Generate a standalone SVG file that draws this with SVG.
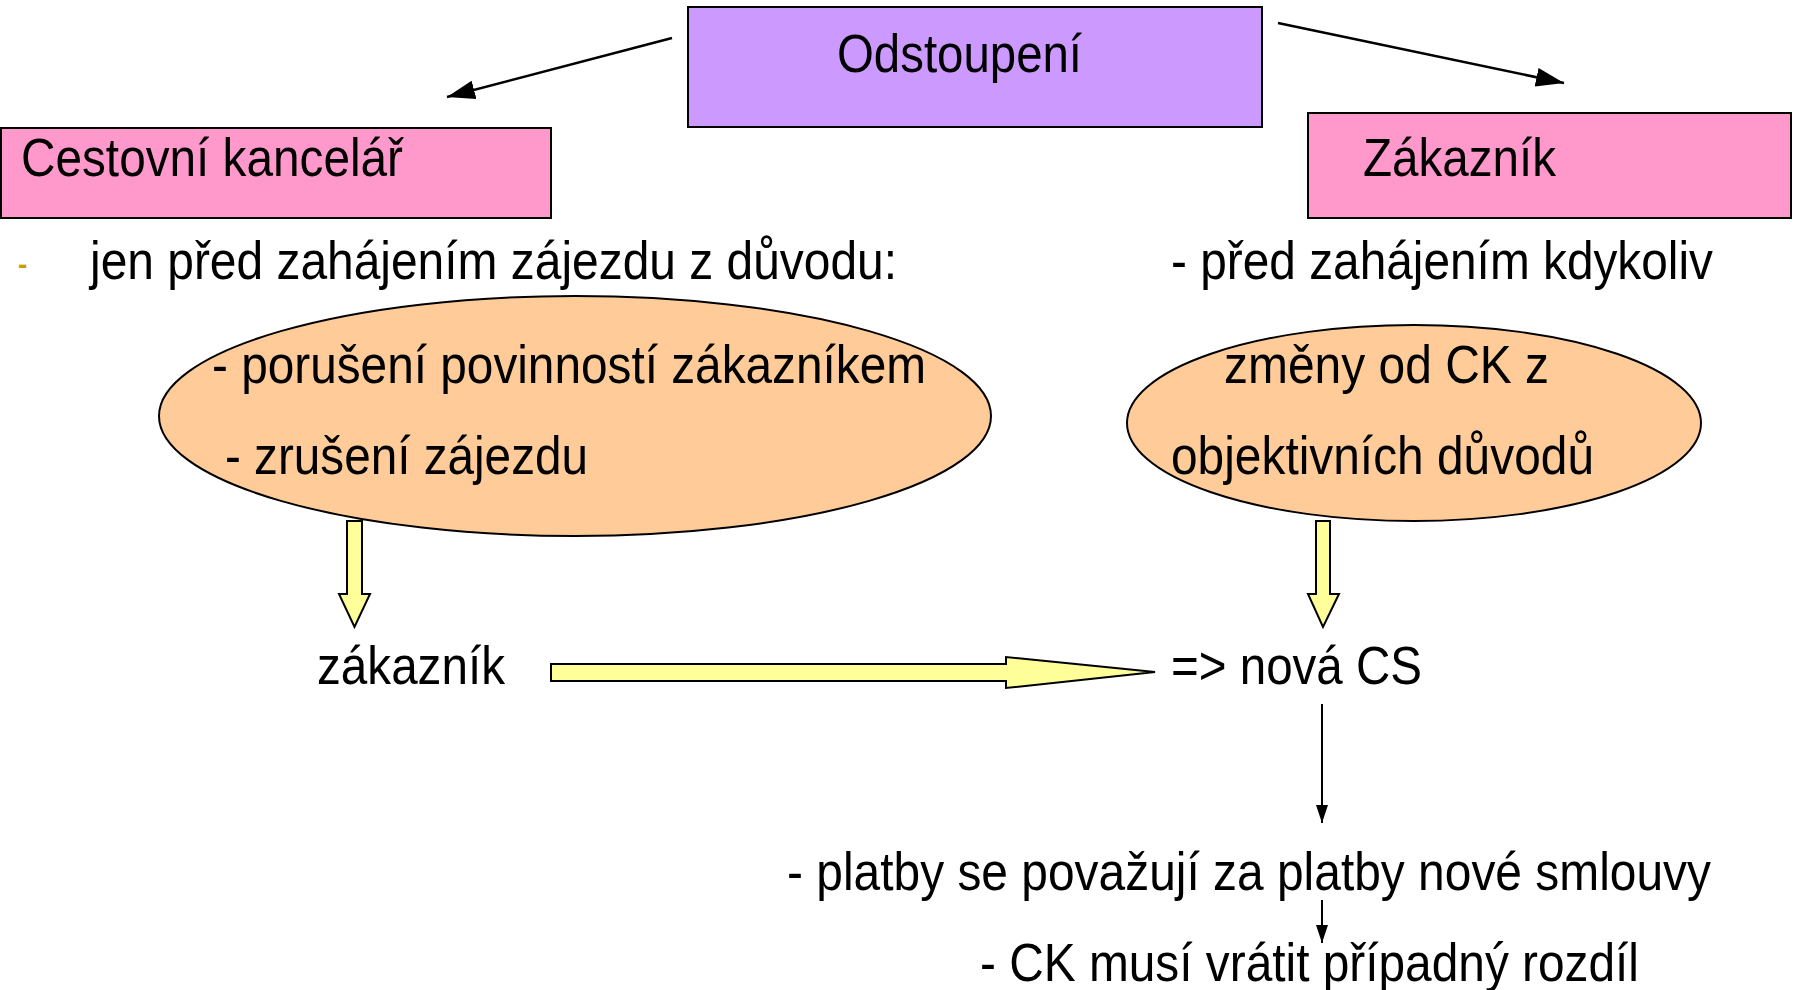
<svg xmlns="http://www.w3.org/2000/svg" width="1797" height="990" viewBox="0 0 1797 990">
<defs>
<style>
.t{font-family:"Liberation Sans",Arial,sans-serif;font-size:54px;fill:#000}
.box{stroke:#000;stroke-width:2}
.ell{fill:#FFCC99;stroke:#000;stroke-width:2}
.yel{fill:#FFFF99;stroke:#000;stroke-width:2;stroke-linejoin:miter}
.ln{stroke:#000;stroke-width:2.5;fill:none}
</style>
<marker id="ah" viewBox="0 0 10 10" refX="10" refY="5" markerWidth="18" markerHeight="12" markerUnits="userSpaceOnUse" orient="auto" preserveAspectRatio="none">
<path d="M0,0 L10,5 L0,10 z" fill="#000"/>
</marker>
<marker id="ah2" viewBox="0 0 10 10" refX="10" refY="5" markerWidth="28" markerHeight="19" markerUnits="userSpaceOnUse" orient="auto" preserveAspectRatio="none">
<path d="M0,0 L10,5 L0,10 z" fill="#000"/>
</marker>
</defs>
<rect width="1797" height="990" fill="#fff"/>
<g id="odstoupeni">
<rect class="box" x="688" y="7" width="574" height="120" fill="#CC99FF"/>
<text class="t" x="837" y="72" textLength="245" lengthAdjust="spacingAndGlyphs">Odstoupení</text>
</g>
<g id="cestovni-kancelar">
<rect class="box" x="1" y="128" width="550" height="90" fill="#FF99CC"/>
<text class="t" x="21" y="176" textLength="382" lengthAdjust="spacingAndGlyphs">Cestovní kancelář</text>
</g>
<g id="zakaznik-box">
<rect class="box" x="1308" y="113" width="483" height="105" fill="#FF99CC"/>
<text class="t" x="1363" y="176" textLength="193" lengthAdjust="spacingAndGlyphs">Zákazník</text>
</g>
<g id="ck-condition">
<text x="18" y="274" font-family="Liberation Sans,Arial,sans-serif" font-size="28" font-weight="bold" fill="#CC9900">-</text>
<text class="t" x="90" y="279" textLength="807" lengthAdjust="spacingAndGlyphs">jen před zahájením zájezdu z důvodu:</text>
</g>
<g id="zak-condition">
<text class="t" x="1171" y="279" textLength="542" lengthAdjust="spacingAndGlyphs">- před zahájením kdykoliv</text>
</g>
<g id="ellipse-left">
<ellipse class="ell" cx="575" cy="416" rx="416" ry="120"/>
<text class="t" x="212" y="383" textLength="714" lengthAdjust="spacingAndGlyphs">- porušení povinností zákazníkem</text>
<text class="t" x="225" y="474" textLength="363" lengthAdjust="spacingAndGlyphs">- zrušení zájezdu</text>
</g>
<g id="ellipse-right">
<ellipse class="ell" cx="1414" cy="423" rx="287" ry="98"/>
<text class="t" x="1224" y="383" textLength="325" lengthAdjust="spacingAndGlyphs">změny od CK z</text>
<text class="t" x="1171" y="474" textLength="423" lengthAdjust="spacingAndGlyphs">objektivních důvodů</text>
</g>
<g id="zakaznik-text">
<text class="t" x="317" y="684" textLength="188" lengthAdjust="spacingAndGlyphs">zákazník</text>
</g>
<g id="nova-cs">
<text class="t" x="1171" y="684" textLength="251" lengthAdjust="spacingAndGlyphs">=&gt; nová CS</text>
</g>
<g id="platby">
<text class="t" x="787" y="890" textLength="924" lengthAdjust="spacingAndGlyphs">- platby se považují za platby nové smlouvy</text>
</g>
<g id="ck-vratit">
<text class="t" x="980" y="981" textLength="659" lengthAdjust="spacingAndGlyphs">- CK musí vrátit případný rozdíl</text>
</g>
<g id="connectors">
<line class="ln" x1="672" y1="38" x2="447" y2="97" marker-end="url(#ah2)"/>
<line class="ln" x1="1278" y1="23" x2="1564" y2="83" marker-end="url(#ah2)"/>
<path class="yel" d="M347,521 H362 V594 H370 L354.5,627 L339,594 H347 Z"/>
<path class="yel" d="M1316,521 H1330 V594 H1339 L1323,627 L1308,594 H1316 Z"/>
<path class="yel" d="M551,664 H1006 V657 L1155,672 L1006,688 V681 H551 Z"/>
<line x1="1322" y1="704" x2="1322" y2="823" stroke="#000" stroke-width="2" marker-end="url(#ah)"/>
<line x1="1322" y1="900" x2="1322" y2="943" stroke="#000" stroke-width="2" marker-end="url(#ah)"/>
</g>
</svg>
